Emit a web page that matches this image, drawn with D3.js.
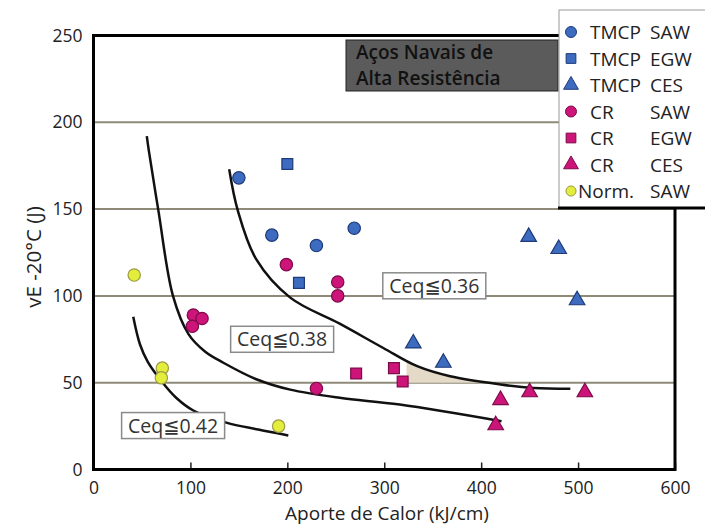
<!DOCTYPE html>
<html>
<head>
<meta charset="utf-8">
<script src="https://cdn.jsdelivr.net/npm/d3@7"></script>
<style>
  body { margin: 0; background: #fff; }
  text { font-family: "Open Sans", "DejaVu Sans", sans-serif; }
</style>
</head>
<body>
<div id="chart-area"></div>
<script>
var width = 705;
var height = 526;

// tick labels
var xTicks = [0, 100, 200, 300, 400, 500, 600];
var yTicks = [0, 50, 100, 150, 200, 250];
var gridValues = [50, 100, 150, 200];

// series (aporte de calor kJ/cm, vE -20°C J)
var tmcpSaw = [[150, 168], [184, 135], [230, 129], [269, 139]];
var tmcpEgw = [[200, 176], [212, 107.5]];
var tmcpCes = [[449, 134], [480, 127], [499, 97.5], [330, 72.6], [361, 61.5]];
var crSaw = [[199, 118], [252, 108], [252, 100], [103, 89], [112, 87], [102, 82.5], [230, 46.7]];
var crEgw = [[271, 55.3], [310, 58.4], [319, 50.7]];
var crCes = [[420, 40], [450, 44.5], [507, 44.5], [415, 25.5]];
var normSaw = [[42, 112], [71, 58.4], [70, 52.8], [191, 25]];

// Ceq curves
var ceq036 = [[140, 173], [149, 149], [168, 121], [203, 99], [254, 84], [299, 70], [334, 59.5],
              [368, 53.7], [420, 49], [454, 47], [492, 46.5]];
var ceq038 = [[55, 192], [57, 184], [67, 149], [82, 100], [98, 78], [115, 68], [134, 61.5],
              [168, 52], [203, 46], [254, 41.3], [316, 37.4], [421, 27.8]];
var ceq042 = [[41, 88], [48, 72], [56, 62], [70, 51], [85, 41.5], [103, 34], [137, 27],
              [170, 23], [201, 19.6]];
var shadeTop = [[323, 62.5], [334, 59.5], [350, 56.5], [368, 53.7], [390, 51.5], [410, 50]];

// curve labels: text, left x, top y
var curveLabels = [["Ceq≦0.36", 298.5, 113.3], ["Ceq≦0.38", 141.5, 82.5], ["Ceq≦0.42", 29, 32.8]];

var legendNames = [["TMCP", "SAW"], ["TMCP", "EGW"], ["TMCP", "CES"], ["CR", "SAW"],
                   ["CR", "EGW"], ["CR", "CES"], ["Norm.", "SAW"]];
var titleLines = ["Aços Navais de", "Alta Resistência"];

var blue = {fill: "#3d6bc0", stroke: "#1e3a78"};
var mag = {fill: "#cc1479", stroke: "#7c0b4a"};
var yel = {fill: "#e3ee3c", stroke: "#9c9a45"};

var groups = [
  {data: tmcpSaw, sym: d3.symbolCircle, size: 120, c: blue},
  {data: tmcpEgw, sym: d3.symbolSquare, size: 118, c: blue},
  {data: tmcpCes, sym: d3.symbolTriangle, size: 105, c: blue},
  {data: crSaw, sym: d3.symbolCircle, size: 120, c: mag},
  {data: crEgw, sym: d3.symbolSquare, size: 118, c: mag},
  {data: crCes, sym: d3.symbolTriangle, size: 105, c: mag},
  {data: normSaw, sym: d3.symbolCircle, size: 120, c: yel}
];

var svg = d3.select("#chart-area").append("svg")
  .attr("width", width)
  .attr("height", height);

var x = d3.scaleLinear().domain([0, 600]).range([93.5, 675]);
var y = d3.scaleLinear().domain([0, 250]).range([469.5, 35.5]);

// gridlines
svg.selectAll(".grid")
  .data(gridValues)
  .enter()
  .append("line")
    .attr("x1", x(0))
    .attr("x2", x(600))
    .attr("y1", d => y(d))
    .attr("y2", d => y(d))
    .attr("stroke", "#8f8a78")
    .attr("stroke-width", 2);

// shaded region
svg.append("path")
  .datum(shadeTop)
  .attr("fill", "#e4dac7")
  .attr("d", d3.area()
    .x(d => x(d[0]))
    .y0(y(50))
    .y1(d => y(d[1]))
    .curve(d3.curveMonotoneX));

// curves
var line = d3.line()
  .x(d => x(d[0]))
  .y(d => y(d[1]))
  .curve(d3.curveCatmullRom.alpha(0.5));

[ceq036, ceq038, ceq042].forEach(c => {
  svg.append("path")
    .datum(c)
    .attr("fill", "none")
    .attr("stroke", "#111")
    .attr("stroke-width", 2.5)
    .attr("d", line);
});

// points
groups.forEach(gr => {
  svg.append("g").selectAll("path")
    .data(gr.data)
    .enter()
    .append("path")
      .attr("transform", d => "translate(" + x(d[0]) + "," + y(d[1]) + ")")
      .attr("d", d3.symbol().type(gr.sym).size(gr.size))
      .attr("fill", gr.c.fill)
      .attr("stroke", gr.c.stroke)
      .attr("stroke-width", 1.2);
});

// curve label boxes
var lab = svg.selectAll(".clabel")
  .data(curveLabels)
  .enter()
  .append("g")
    .attr("transform", d => "translate(" + x(d[1]) + "," + y(d[2]) + ")");
lab.append("rect")
  .attr("width", 103)
  .attr("height", 26)
  .attr("fill", "#fff")
  .attr("stroke", "#8a8a8a")
  .attr("stroke-width", 1.5);
lab.append("text")
  .attr("x", 51.5)
  .attr("y", 20)
  .attr("text-anchor", "middle")
  .attr("font-size", "19.5px")
  .attr("fill", "#333")
  .text(d => d[0]);

// axes
var bottomAxis = d3.axisBottom(x).tickValues(xTicks).tickSizeInner(-7).tickSizeOuter(0).tickPadding(12);
var gx = svg.append("g")
  .attr("transform", "translate(0," + y(0) + ")")
  .call(bottomAxis);
gx.select(".domain").remove();
gx.selectAll("line").attr("stroke", "#222").attr("stroke-width", 1.5);
gx.selectAll("text").attr("font-size", "17.5px").attr("fill", "#222")
  .style("font-family", "'Open Sans', sans-serif");

var leftAxis = d3.axisLeft(y).tickValues(yTicks).tickSize(0).tickPadding(11);
var gy = svg.append("g")
  .attr("transform", "translate(" + x(0) + ",0)")
  .call(leftAxis);
gy.select(".domain").remove();
gy.selectAll("text").attr("font-size", "17.5px").attr("fill", "#222")
  .style("font-family", "'Open Sans', sans-serif");

// frame
svg.append("rect")
  .attr("x", x(0))
  .attr("y", y(250))
  .attr("width", x(600) - x(0))
  .attr("height", y(0) - y(250))
  .attr("fill", "none")
  .attr("stroke", "#000")
  .attr("stroke-width", 3);

svg.append("text")
  .attr("x", 387)
  .attr("y", 520)
  .attr("text-anchor", "middle")
  .attr("font-size", "19px")
  .attr("fill", "#222")
  .text("Aporte de Calor (kJ/cm)");

svg.append("text")
  .attr("transform", "translate(41,257) rotate(-90)")
  .attr("text-anchor", "middle")
  .attr("font-size", "20.5px")
  .attr("fill", "#222")
  .text("vE -20°C (J)");

// title box
svg.append("rect")
  .attr("x", 346)
  .attr("y", 40)
  .attr("width", 212)
  .attr("height", 51)
  .attr("fill", "#5b5b5b")
  .attr("stroke", "#222")
  .attr("stroke-width", 1);
svg.selectAll(".title")
  .data(titleLines)
  .enter()
  .append("text")
    .attr("x", 356)
    .attr("y", (d, i) => 59 + i * 26)
    .attr("font-size", "19px")
    .attr("font-weight", 600)
    .attr("fill", "#111")
    .text(d => d);

// legend
var leg = svg.append("g");
leg.append("rect")
  .attr("x", 559)
  .attr("y", 10)
  .attr("width", 160)
  .attr("height", 198)
  .attr("fill", "#fff")
  .attr("stroke", "#999")
  .attr("stroke-width", 1);
leg.append("line")
  .attr("x1", 558).attr("x2", 705)
  .attr("y1", 208).attr("y2", 208)
  .attr("stroke", "#000")
  .attr("stroke-width", 3);

var rows = leg.selectAll(".row")
  .data(legendNames)
  .enter()
  .append("g")
    .attr("transform", (d, i) => "translate(0," + (32 + i * 26.5) + ")");
rows.append("path")
  .attr("transform", "translate(571,0)")
  .attr("d", (d, i) => d3.symbol().type(groups[i].sym).size(i == 6 ? 80 : 95)())
  .attr("fill", (d, i) => groups[i].c.fill)
  .attr("stroke", (d, i) => groups[i].c.stroke)
  .attr("stroke-width", 1);
rows.append("text")
  .attr("x", (d, i) => i == 6 ? 578 : 590)
  .attr("y", 7)
  .attr("font-size", "19px")
  .attr("fill", "#222")
  .text(d => d[0]);
rows.append("text")
  .attr("x", 650)
  .attr("y", 7)
  .attr("font-size", "19px")
  .attr("fill", "#222")
  .text(d => d[1]);
</script>
</body>
</html>
